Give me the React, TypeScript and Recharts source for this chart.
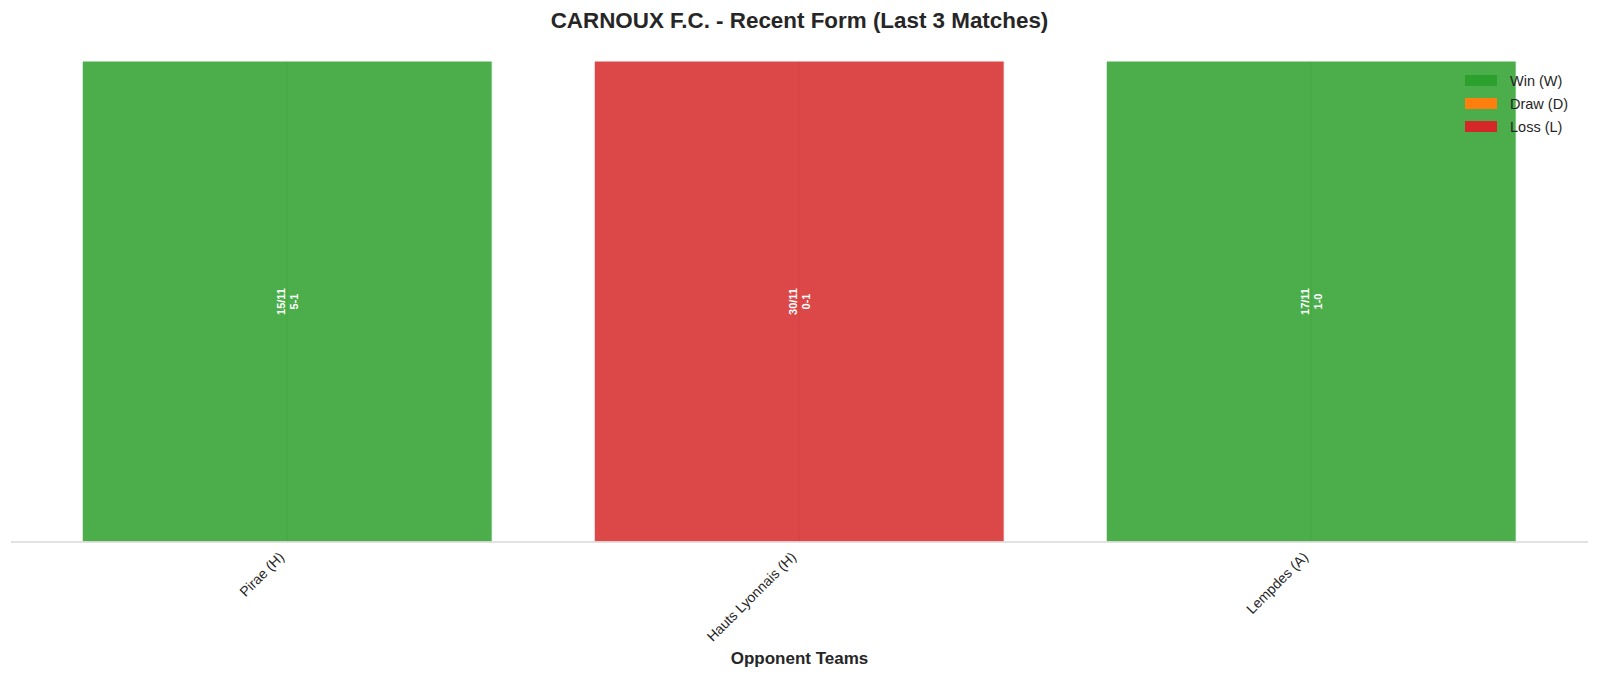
import { BarChart, Bar, XAxis, YAxis, CartesianGrid, Cell, LabelList } from 'recharts';

const opponents = ['Pirae (H)', 'Hauts Lyonnais (H)', 'Lempdes (A)'];
const matchDates = ['15/11', '30/11', '17/11'];
const scores = ['5-1', '0-1', '1-0'];
const results = ['W', 'L', 'W'];
const barValues = [1, 1, 1];

const resultColors: Record<string, string> = {
  W: '#2ca02c',
  D: '#ff7f0e',
  L: '#d62728',
};

const legendItems = [
  { key: 'W', label: 'Win (W)' },
  { key: 'D', label: 'Draw (D)' },
  { key: 'L', label: 'Loss (L)' },
];

const data = opponents.map((name, i) => ({
  name,
  value: barValues[i],
  date: matchDates[i],
  score: scores[i],
  result: results[i],
}));

const FONT = '"Liberation Sans", Arial, sans-serif';
const TEXT = '#262626';

// grid lines only at the category centres (no lines on the plot edges)
function centreLines(props: any) {
  try {
    const s = props?.xAxis?.scale;
    if (!s) return [];
    let pts: number[] = [];
    if (typeof s === 'function') {
      const half = typeof s.bandwidth === 'function' ? s.bandwidth() / 2 : 0;
      pts = opponents.map((n) => s(n) + half);
    } else if (typeof s.map === 'function') {
      pts = opponents.map((n) => s.map(n, { position: 'middle' }));
    } else if (typeof s.apply === 'function') {
      pts = opponents.map((n) => s.apply(n, { position: 'middle' }));
    }
    return pts.filter((v) => Number.isFinite(v));
  } catch (e) {
    return [];
  }
}

function OpponentTick(props: any) {
  const { x, y, payload } = props;
  const px = x - 2;
  const py = y + 16;
  return (
    <text
      x={px}
      y={py}
      textAnchor="end"
      fontSize={14}
      fill={TEXT}
      fontFamily={FONT}
      transform={`rotate(-45, ${px}, ${py})`}
    >
      {payload.value}
    </text>
  );
}

function MatchLabel(props: any) {
  const { x, y, width, height, index } = props;
  const cx = x + width / 2;
  const cy = y + height / 2;
  return (
    <text
      x={cx}
      y={cy}
      textAnchor="middle"
      fontSize={11}
      fontWeight="bold"
      fill="#ffffff"
      fontFamily={FONT}
      transform={`rotate(-90, ${cx}, ${cy})`}
    >
      <tspan x={cx} dy={-2}>{matchDates[index]}</tspan>
      <tspan x={cx} dy={13}>{scores[index]}</tspan>
    </text>
  );
}

export default function App() {
  return (
    <div style={{ position: 'absolute', left: 0, top: 0, width: 1600, height: 679, background: '#fff', fontFamily: FONT }}>
      <div
        style={{
          position: 'absolute',
          top: 8,
          left: 11,
          width: 1577,
          textAlign: 'center',
          fontSize: 22.4,
          fontWeight: 'bold',
          color: TEXT,
          lineHeight: '26px',
        }}
      >
        CARNOUX F.C. - Recent Form (Last 3 Matches)
      </div>
      <BarChart
        width={1600}
        height={679}
        data={data}
        margin={{ top: 61, right: 12, left: 11, bottom: 0 }}
        barCategoryGap="10%"
      >
        <CartesianGrid
          vertical
          horizontal={false}
          stroke="#cccccc"
          verticalCoordinatesGenerator={centreLines}
        />
        <XAxis
          dataKey="name"
          height={137}
          padding={{ left: 20, right: 21 }}
          axisLine={{ stroke: '#d9d9d9', strokeWidth: 1.5 }}
          tickLine={false}
          tickSize={0}
          tickMargin={0}
          interval={0}
          tick={<OpponentTick />}
          label={{
            value: 'Opponent Teams',
            position: 'insideBottom',
            offset: 15,
            style: { fontSize: 17, fontWeight: 'bold', fill: TEXT, fontFamily: FONT },
          }}
        />
        <YAxis hide domain={[0, 1]} />
        <Bar dataKey="value" isAnimationActive={false} stroke="#ffffff" strokeWidth={1}>
          {data.map((d) => (
            <Cell key={d.name} fill={resultColors[d.result]} fillOpacity={0.85} />
          ))}
          <LabelList dataKey="date" content={<MatchLabel />} />
        </Bar>
      </BarChart>
      <div style={{ position: 'absolute', top: 69, left: 1465 }}>
        {legendItems.map((item) => (
          <div key={item.key} style={{ display: 'flex', alignItems: 'center', height: 23 }}>
            <span style={{ width: 32, height: 11, background: resultColors[item.key], display: 'inline-block' }} />
            <span style={{ marginLeft: 13, fontSize: 14.5, color: TEXT }}>{item.label}</span>
          </div>
        ))}
      </div>
    </div>
  );
}
